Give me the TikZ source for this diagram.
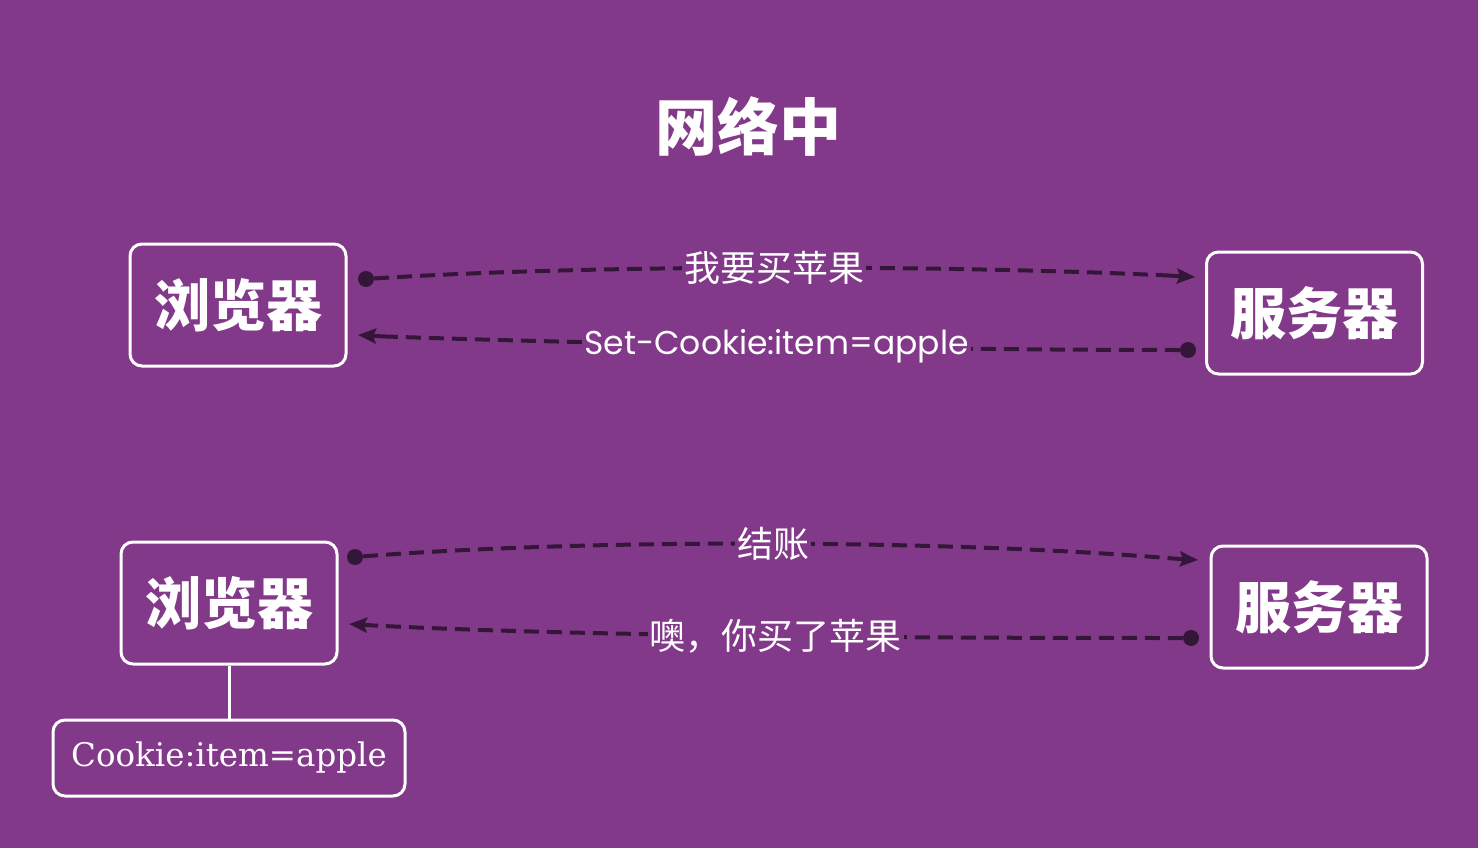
\documentclass[tikz,border=0pt]{standalone}
\usepackage{fontspec}
\newfontfamily\cjk{Noto Sans CJK SC}
\newfontfamily\poppins{Poppins}
\newfontfamily\serifck{DejaVu Serif}
\usetikzlibrary{arrows.meta}
\definecolor{bg}{RGB}{130,57,137}
\definecolor{wire}{RGB}{52,22,56}
\begin{document}
\begin{tikzpicture}[x=1pt,y=-1pt,
  box/.style={draw=white, line width=3pt, rounded corners=12pt, fill=bg,
    minimum width=216pt, minimum height=122pt, inner sep=0pt, text=white,
    font=\cjk\bfseries\fontsize{56}{56}\selectfont},
  cookiebox/.style={draw=white, line width=3pt, rounded corners=12pt, fill=bg,
    minimum width=352pt, minimum height=76pt, inner sep=0pt, text=white,
    font=\serifck\fontsize{32.5}{32.5}\selectfont},
  dot/.style={circle, fill=wire, minimum size=16pt, inner sep=0pt},
  msg/.style={draw=wire, line width=4pt, dash pattern=on 15pt off 8pt},
  tipline/.style={draw=wire, line width=4pt,
    -{Stealth[length=18pt,width=15pt,inset=3pt]}},
  lbl/.style={fill=bg, text=white, inner sep=2pt,
    font=\cjk\fontsize{36}{36}\selectfont},
  latinlbl/.style={fill=bg, text=white, inner sep=2pt,
    font=\poppins\fontsize{33}{33}\selectfont}
]
\fill[bg] (0,0) rectangle (1478,848);
\useasboundingbox (0,0) rectangle (1478,848);

\node[text=white, font=\cjk\bfseries\fontsize{62}{62}\selectfont] (title) at (748,127) {网络中};

\node[box] (b1) at (238,305) {浏览器};
\node[box] (s1) at (1314.5,313) {服务器};
\node[box] (b2) at (229,603) {浏览器};
\node[box] (s2) at (1319,607) {服务器};
\node[cookiebox] (ck) at (229,758) {Cookie:item=apple};

\draw[white, line width=3pt] (b2.south) -- (ck.north);

\coordinate (e1) at (1195,277);
\coordinate (e2) at (358,335);
\coordinate (e3) at (1198,560);
\coordinate (e4) at (349,624);
\coordinate (p1) at (1170,275.6);
\coordinate (p2) at (383,336.4);
\coordinate (p3) at (1173,558.5);
\coordinate (p4) at (374,625.5);

\node[dot] (d1) at (366,279) {};
\node[dot] (d2) at (1188,350) {};
\node[dot] (d3) at (355,557) {};
\node[dot] (d4) at (1191,638) {};

\draw[msg] (d1) .. controls (600,264) and (950,265) .. (p1)
  node[lbl, pos=0.5] {我要买苹果};
\draw[tipline] (p1) -- (e1);
\draw[msg] (d2) .. controls (950,350) and (600,344) .. (p2)
  node[latinlbl, pos=0.5] {Set-Cookie:item=apple};
\draw[tipline] (p2) -- (e2);
\draw[msg] (d3) .. controls (600,538) and (950,540) .. (p3)
  node[lbl, pos=0.5] {结账};
\draw[tipline] (p3) -- (e3);
\draw[msg] (d4) .. controls (950,638) and (600,637) .. (p4)
  node[lbl, pos=0.5] {噢，你买了苹果};
\draw[tipline] (p4) -- (e4);
\end{tikzpicture}
\end{document}
